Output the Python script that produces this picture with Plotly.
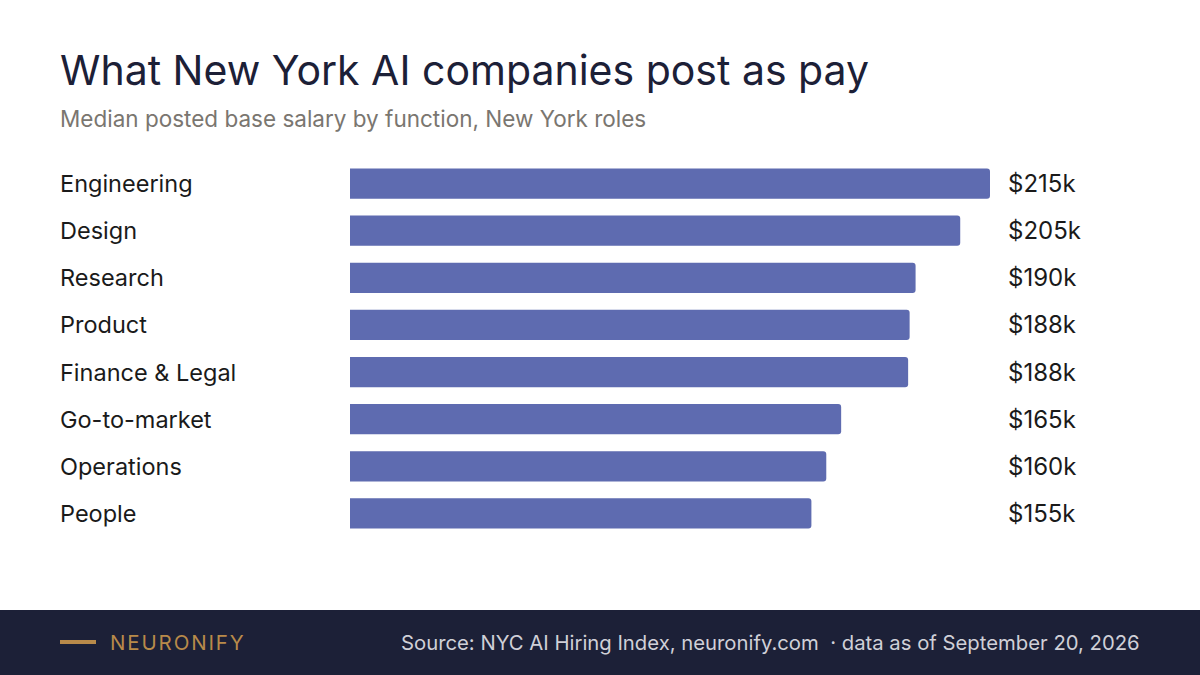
import plotly.graph_objects as go

categories = ["Engineering", "Design", "Research", "Product", "Finance & Legal",
              "Go-to-market", "Operations", "People"]
salaries_k = [215, 205, 190, 188, 187.5, 165, 160, 155]
value_labels = ["$215k", "$205k", "$190k", "$188k", "$188k", "$165k", "$160k", "$155k"]

W, H = 1200, 675
L, R, T, B = 350, 210, 160, 138
PW, PH = W - L - R, H - T - B

def px(x):
    return (x - L) / PW

def py(y):
    return (H - B - y) / PH

FONT = "Inter"
fig = go.Figure(go.Bar(
    x=salaries_k, y=categories, orientation="h",
    marker=dict(color="#5e6bb0", line=dict(width=0)),
    hoverinfo="skip",
))

ann = []
for c, lab in zip(categories, value_labels):
    ann.append(dict(x=px(1006), xref="paper", y=c, yref="y", text=lab, showarrow=False,
                    xanchor="left", font=dict(family=FONT, size=24, color="#1a1a1a")))
    ann.append(dict(x=px(58), xref="paper", y=c, yref="y", text=c, showarrow=False,
                    xanchor="left", font=dict(family=FONT, size=23.5, color="#1a1a1a")))

ann += [
    dict(x=px(58), y=py(70), xref="paper", yref="paper", text="What New York AI companies post as pay",
         showarrow=False, xanchor="left", yanchor="middle",
         font=dict(family=FONT, size=41, color="#1c2037")),
    dict(x=px(58), y=py(118), xref="paper", yref="paper", text="Median posted base salary by function, New York roles",
         showarrow=False, xanchor="left", yanchor="middle",
         font=dict(family=FONT, size=22.5, color="#7a7670")),
    dict(x=px(108), y=py(642), xref="paper", yref="paper", text="\u200a".join("NEURONIFY"),
         showarrow=False, xanchor="left", yanchor="middle",
         font=dict(family=FONT, size=20.5, color="#b88a4a")),
    dict(x=px(1142), y=py(642), xref="paper", yref="paper",
         text="Source: NYC AI Hiring Index, neuronify.com  · data as of September 20, 2026",
         showarrow=False, xanchor="right", yanchor="middle",
         font=dict(family=FONT, size=20.3, color="#d0d0d8")),
]

shapes = [
    dict(type="rect", xref="paper", yref="paper", x0=px(0), x1=px(1200), y0=py(610), y1=py(676),
         fillcolor="#1c2037", line=dict(width=0), layer="below"),
    dict(type="line", xref="paper", yref="paper", x0=px(60), x1=px(96), y0=py(642), y1=py(642),
         line=dict(color="#b88a4a", width=4)),
]

fig.update_layout(
    width=W, height=H, margin=dict(l=L, r=R, t=T, b=B),
    paper_bgcolor="white", plot_bgcolor="white",
    xaxis=dict(range=[0, 215], visible=False, fixedrange=True),
    yaxis=dict(autorange="reversed", visible=False, fixedrange=True),
    bargap=0.36, barcornerradius=3, showlegend=False,
    annotations=ann, shapes=shapes,
)
fig.write_html("out.html", config={"displayModeBar": False},
               post_script="document.body.style.margin='0';document.body.style.overflow='hidden';")
